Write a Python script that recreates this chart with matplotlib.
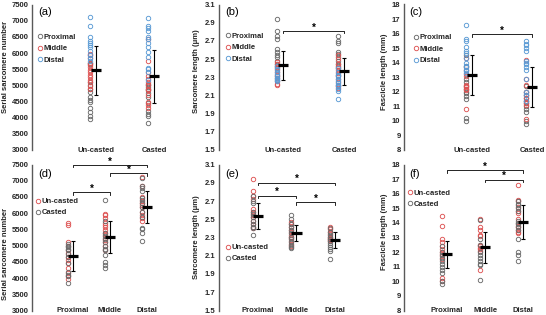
import numpy as np
import matplotlib.pyplot as plt

plt.rcParams['font.family'] = ['Liberation Sans', 'DejaVu Sans']

# ---- values ----
conditions = ['Un-casted', 'Casted']
regions = ['Proximal', 'Middle', 'Distal']

# serial sarcomere number
ssn_prox_unc = [5700, 5650, 5100, 5000, 4880, 4780, 4650, 4550, 4470, 4300, 4160, 4060, 3960]
ssn_mid_unc = [5980, 5930, 5850, 5700, 5620, 5560, 5480, 5400, 5330, 5250, 5180, 5100, 4980, 4880]
ssn_dist_unc = [7120, 6830, 6490, 6380, 6310, 6240, 6180, 6050, 5950, 5850, 5750]
ssn_prox_cast = [5050, 5000, 4950, 4900, 4850, 4750, 4650, 4450, 4200, 4100, 4050, 3850]
ssn_mid_cast = [6420, 5750, 5400, 5300, 5200, 5100, 5000, 4900, 4850, 4700, 4500, 4400, 4300]
ssn_dist_cast = [7070, 6850, 6780, 6680, 6480, 6420, 6300, 6180, 6040, 5890, 5550, 5500, 5400, 5150]

# sarcomere length (um)
sl_prox_unc = [2.94, 2.81, 2.75, 2.72, 2.61, 2.58, 2.55, 2.52, 2.48, 2.45, 2.42, 2.40]
sl_mid_unc = [2.47, 2.45, 2.41, 2.38, 2.36, 2.33, 2.31, 2.29, 2.26, 2.23, 2.21]
sl_dist_unc = [2.42, 2.39, 2.36, 2.34, 2.31, 2.29, 2.28, 2.27, 2.26]
sl_prox_cast = [2.75, 2.70, 2.68, 2.58, 2.56, 2.52, 2.48, 2.45, 2.42, 2.40, 2.33]
sl_mid_cast = [2.55, 2.50, 2.45, 2.41, 2.38, 2.35, 2.31, 2.28, 2.25, 2.22, 2.20, 2.18]
sl_dist_cast = [2.40, 2.36, 2.33, 2.31, 2.28, 2.26, 2.24, 2.22, 2.20, 2.17, 2.15, 2.06]

# fascicle length (mm)
fl_prox_unc = [14.5, 13.8, 12.9, 12.7, 12.4, 12.2, 12.0, 11.9, 11.7, 11.5, 10.2, 10.0]
fl_mid_unc = [14.3, 13.7, 13.5, 13.2, 13.1, 12.5, 12.4, 12.3, 12.2, 12.1, 10.8]
fl_dist_unc = [16.6, 15.6, 15.5, 15.1, 14.8, 14.7, 14.3, 14.0, 13.8, 13.7, 13.5, 13.4, 13.3]
fl_prox_cast = [12.4, 12.0, 11.8, 11.6, 11.4, 11.2, 11.0, 10.8, 10.6, 10.0, 9.8]
fl_mid_cast = [14.2, 12.9, 12.5, 12.0, 11.8, 11.6, 11.4, 11.2, 11.1, 10.1]
fl_dist_cast = [15.5, 15.3, 15.2, 15.0, 14.8, 14.1, 14.0, 13.9, 13.7, 13.5, 12.9, 12.0, 11.8, 11.4]

# group means and SDs as drawn
ssn_cond_mean = [5460, 5275]
ssn_cond_sd = [755, 825]
sl_cond_mean = [2.43, 2.365]
sl_cond_sd = [0.155, 0.15]
fl_cond_mean = [13.15, 12.35]
fl_cond_sd = [1.39, 1.38]
ssn_reg_mean = [4673, 5265, 6184]
ssn_reg_sd = [460, 490, 485]
sl_reg_mean = [2.535, 2.35, 2.272]
sl_reg_sd = [0.145, 0.088, 0.087]
fl_reg_mean = [11.84, 12.32, 14.07]
fl_reg_sd = [0.94, 1.06, 1.17]

# significance brackets (group i, group j, height)
sig_b = [(1, 2, 2.81)]
sig_c = [(1, 2, 15.95)]
sig_d = [(1, 3, 7490), (2, 3, 7235), (1, 2, 6645)]
sig_e = [(1, 3, 2.90), (1, 2, 2.76), (2, 3, 2.69)]
sig_f = [(1, 3, 17.63), (2, 3, 16.97)]

GREY = '#6b6b6b'
RED = '#de5454'
BLUE = '#5b9bd5'
FS = 5.5

W, H = 546, 315
fig = plt.figure(figsize=(W / 100, H / 100), dpi=100)


def px_axes(left, top, right, bottom):
    return fig.add_axes([left / W, 1 - bottom / H, (right - left) / W, (bottom - top) / H])


def setup(ax, ylim, ystep, fmt, ylabel, ylab_pos, xlim, xlabels, xpad, tag, tag_pos):
    ax.set_xlim(*xlim)
    ax.set_ylim(*ylim)
    ax.set_yticks(np.arange(ylim[0], ylim[1] + ystep / 2, ystep))
    ax.yaxis.set_major_formatter(plt.FormatStrFormatter(fmt))
    ax.set_xticks(range(1, len(xlabels) + 1))
    ax.set_xticklabels(xlabels)
    for s in ['top', 'right', 'bottom']:
        ax.spines[s].set_visible(False)
    ax.spines['left'].set_color('#595959')
    ax.spines['left'].set_linewidth(1.0)
    ax.tick_params(axis='both', length=0, labelsize=FS, colors='#262626')
    ax.tick_params(axis='x', pad=xpad)
    ax.tick_params(axis='y', pad=2.5)
    for lab in ax.get_xticklabels() + ax.get_yticklabels():
        lab.set_fontweight('bold')
    ax.set_ylabel(ylabel, fontsize=FS, fontweight='bold', color='#262626')
    ax.yaxis.set_label_coords(*ylab_pos)
    ax.text(tag_pos[0], tag_pos[1], tag, transform=ax.transAxes, fontsize=8,
            ha='left', va='center')


def draw_group(ax, x, series, colors, mean, sd, offset, half):
    for vals, c in zip(series, colors):
        ax.plot(np.full(len(vals), x - offset), vals, 'o', ms=3.2, mfc='none',
                mec=c, mew=0.65, clip_on=False)
    ax.errorbar(x, mean, yerr=sd, fmt='none', ecolor='black', elinewidth=0.8,
                capsize=1.2, capthick=0.8)
    ax.plot([x - half, x + half], [mean, mean], color='black', lw=2.3,
            solid_capstyle='butt')


def brackets(ax, sigs, ylim):
    rng = ylim[1] - ylim[0]
    for i, j, y in sigs:
        d = 0.018 * rng
        ax.plot([i, i, j, j], [y - d, y, y, y - d], color='black', lw=0.6, clip_on=False)
        ax.text((i + j) / 2, y + 0.003 * rng, '*', ha='center', va='baseline',
                fontsize=7, fontweight='bold', clip_on=False)


def legend(ax, x, y0, step, labels, colors):
    for k, (lab, c) in enumerate(zip(labels, colors)):
        y = y0 - k * step
        ax.plot([x], [y], 'o', transform=ax.transAxes, ms=3.2, mfc='none', mec=c,
                mew=0.65, clip_on=False)
        ax.text(x + 0.026, y, lab, transform=ax.transAxes, fontsize=FS,
                fontweight='bold', va='center_baseline', ha='left', color='#262626')


top_colors = [GREY, RED, BLUE]
bot_colors = [RED, GREY]

ssn_unc = [ssn_prox_unc, ssn_mid_unc, ssn_dist_unc]
ssn_cast = [ssn_prox_cast, ssn_mid_cast, ssn_dist_cast]
sl_unc = [sl_prox_unc, sl_mid_unc, sl_dist_unc]
sl_cast = [sl_prox_cast, sl_mid_cast, sl_dist_cast]
fl_unc = [fl_prox_unc, fl_mid_unc, fl_dist_unc]
fl_cast = [fl_prox_cast, fl_mid_cast, fl_dist_cast]

# ---- top row: by condition ----
top_panels = [
    ('(a)', (32, 185), (-0.103, 2.534), (3000, 7500), 500, '%d', 'Serial sarcomere number',
     (-0.15, 0.57), ssn_unc, ssn_cast, ssn_cond_mean, ssn_cond_sd, [], (0.052, 0.783)),
    ('(b)', (219, 370), (-0.049, 2.426), (1.5, 3.1), 0.2, '%.1f', 'Sarcomere length (μm)',
     (-0.126, 0.54), sl_unc, sl_cast, sl_cond_mean, sl_cond_sd, sig_b, (0.058, 0.79)),
    ('(c)', (404, 546), (-0.133, 2.233), (8, 18), 1, '%d', 'Fascicle length (mm)',
     (-0.113, 0.535), fl_unc, fl_cast, fl_cond_mean, fl_cond_sd, sig_c, (0.085, 0.78)),
]
for tag, (l, r), xlim, ylim, step, fmt, ylab, ylpos, unc, cast, means, sds, sigs, legpos in top_panels:
    ax = px_axes(l, 4.5, r, 150)
    setup(ax, ylim, step, fmt, ylab, ylpos, xlim, conditions, -1.8, tag, (0.04, 0.95))
    for k, grp in enumerate([unc, cast]):
        draw_group(ax, k + 1, grp, top_colors, means[k], sds[k], 0.1, 0.08)
    brackets(ax, sigs, ylim)
    legend(ax, legpos[0], legpos[1], 0.08, regions, top_colors)

# ---- bottom row: by region ----
bot_panels = [
    ('(d)', (32, 185), (-0.108, 4.03), (3000, 7500), 500, '%d', 'Serial sarcomere number',
     (-0.15, 0.39), ssn_unc, ssn_cast, ssn_reg_mean, ssn_reg_sd, sig_d, (0.037, 0.751)),
    ('(e)', (219, 370), (-0.013, 3.91), (1.5, 3.1), 0.2, '%.1f', 'Sarcomere length (μm)',
     (-0.126, 0.5), sl_unc, sl_cast, sl_reg_mean, sl_reg_sd, sig_e, (0.058, 0.438)),
    ('(f)', (404, 546), (-0.13, 3.6), (8, 18), 1, '%d', 'Fascicle length (mm)',
     (-0.113, 0.54), fl_unc, fl_cast, fl_reg_mean, fl_reg_sd, sig_f, (0.042, 0.81)),
]
for tag, (l, r), xlim, ylim, step, fmt, ylab, ylpos, unc, cast, means, sds, sigs, legpos in bot_panels:
    ax = px_axes(l, 164.5, r, 310.5)
    setup(ax, ylim, step, fmt, ylab, ylpos, xlim, regions, -2.6, tag, (0.04, 0.935))
    for k in range(3):
        draw_group(ax, k + 1, [unc[k], cast[k]], bot_colors, means[k], sds[k], 0.13, 0.14)
    brackets(ax, sigs, ylim)
    legend(ax, legpos[0], legpos[1], 0.075, conditions, bot_colors)

fig.savefig('out.png', dpi=100, facecolor='white')
